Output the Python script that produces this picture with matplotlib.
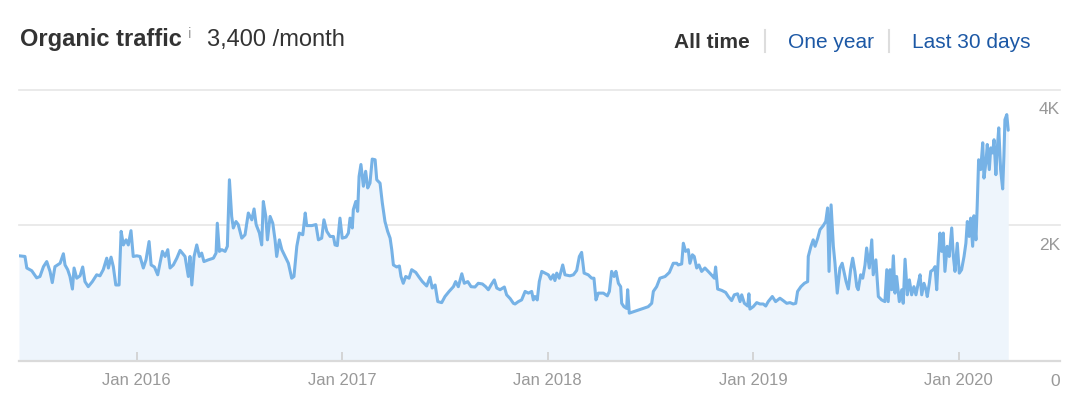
import matplotlib
matplotlib.use("Agg")
import matplotlib.pyplot as plt
from matplotlib import transforms
from matplotlib.lines import Line2D

plt.rcParams['font.family'] = ['Liberation Sans', 'DejaVu Sans']

# ---- data -------------------------------------------------------------
current_traffic = 3400

dates = [
    2015.427, 2015.456, 2015.465, 2015.489, 2015.513, 2015.529, 2015.546, 2015.562, 2015.578, 2015.589,
    2015.602, 2015.627, 2015.643, 2015.651, 2015.664, 2015.675, 2015.687, 2015.695, 2015.708, 2015.724,
    2015.737, 2015.748, 2015.764, 2015.784, 2015.805, 2015.821, 2015.837, 2015.854, 2015.862, 2015.875,
    2015.886, 2015.898, 2015.914, 2015.924, 2015.935, 2015.948, 2015.959, 2015.972, 2015.983, 2016.000,
    2016.016, 2016.032, 2016.045, 2016.060, 2016.070, 2016.086, 2016.102, 2016.113, 2016.125, 2016.138,
    2016.151, 2016.162, 2016.178, 2016.195, 2016.211, 2016.235, 2016.251, 2016.259, 2016.268, 2016.279,
    2016.292, 2016.305, 2016.316, 2016.327, 2016.348, 2016.373, 2016.386, 2016.392, 2016.402, 2016.414,
    2016.430, 2016.441, 2016.451, 2016.462, 2016.470, 2016.483, 2016.494, 2016.511, 2016.527, 2016.543,
    2016.560, 2016.571, 2016.581, 2016.597, 2016.608, 2016.616, 2016.628, 2016.636, 2016.649, 2016.662,
    2016.673, 2016.681, 2016.694, 2016.706, 2016.722, 2016.738, 2016.754, 2016.765, 2016.779, 2016.791,
    2016.808, 2016.820, 2016.827, 2016.852, 2016.872, 2016.884, 2016.900, 2016.911, 2016.925, 2016.941,
    2016.957, 2016.965, 2016.976, 2016.989, 2017.000, 2017.018, 2017.030, 2017.038, 2017.049, 2017.054,
    2017.066, 2017.075, 2017.082, 2017.091, 2017.103, 2017.114, 2017.124, 2017.135, 2017.146, 2017.160,
    2017.168, 2017.184, 2017.195, 2017.208, 2017.221, 2017.233, 2017.241, 2017.249, 2017.265, 2017.278,
    2017.286, 2017.297, 2017.309, 2017.325, 2017.338, 2017.358, 2017.374, 2017.390, 2017.411, 2017.427,
    2017.438, 2017.452, 2017.465, 2017.484, 2017.500, 2017.520, 2017.541, 2017.552, 2017.565, 2017.582,
    2017.594, 2017.611, 2017.627, 2017.646, 2017.662, 2017.682, 2017.698, 2017.711, 2017.724, 2017.740,
    2017.752, 2017.768, 2017.789, 2017.800, 2017.817, 2017.833, 2017.841, 2017.857, 2017.873, 2017.890,
    2017.906, 2017.922, 2017.930, 2017.938, 2017.949, 2017.959, 2017.971, 2017.987, 2018.003, 2018.015,
    2018.027, 2018.035, 2018.044, 2018.056, 2018.073, 2018.084, 2018.108, 2018.125, 2018.141, 2018.154,
    2018.165, 2018.177, 2018.197, 2018.214, 2018.225, 2018.235, 2018.246, 2018.271, 2018.290, 2018.300,
    2018.311, 2018.323, 2018.332, 2018.344, 2018.355, 2018.360, 2018.371, 2018.384, 2018.389, 2018.397,
    2018.416, 2018.441, 2018.465, 2018.489, 2018.506, 2018.514, 2018.530, 2018.546, 2018.571, 2018.592,
    2018.611, 2018.628, 2018.635, 2018.652, 2018.660, 2018.671, 2018.684, 2018.692, 2018.704, 2018.713,
    2018.725, 2018.736, 2018.749, 2018.765, 2018.781, 2018.801, 2018.811, 2018.817, 2018.827, 2018.847,
    2018.866, 2018.879, 2018.895, 2018.908, 2018.924, 2018.936, 2018.944, 2018.957, 2018.973, 2018.979,
    2018.984, 2019.000, 2019.017, 2019.033, 2019.049, 2019.061, 2019.073, 2019.093, 2019.109, 2019.130,
    2019.146, 2019.163, 2019.179, 2019.195, 2019.207, 2019.216, 2019.232, 2019.249, 2019.265, 2019.268,
    2019.281, 2019.292, 2019.301, 2019.314, 2019.325, 2019.341, 2019.353, 2019.362, 2019.369, 2019.379,
    2019.390, 2019.398, 2019.409, 2019.422, 2019.433, 2019.452, 2019.463, 2019.474, 2019.484, 2019.495,
    2019.504, 2019.511, 2019.523, 2019.533, 2019.544, 2019.552, 2019.565, 2019.577, 2019.584, 2019.597,
    2019.609, 2019.625, 2019.641, 2019.650, 2019.657, 2019.666, 2019.674, 2019.682, 2019.690, 2019.698,
    2019.711, 2019.723, 2019.730, 2019.739, 2019.750, 2019.760, 2019.771, 2019.782, 2019.792, 2019.803,
    2019.812, 2019.820, 2019.831, 2019.841, 2019.847, 2019.857, 2019.864, 2019.876, 2019.885, 2019.893,
    2019.901, 2019.909, 2019.917, 2019.925, 2019.933, 2019.944, 2019.954, 2019.966, 2019.974, 2019.982,
    2019.993, 2020.003, 2020.014, 2020.026, 2020.035, 2020.042, 2020.051, 2020.058, 2020.068, 2020.074,
    2020.084, 2020.090, 2020.097, 2020.107, 2020.117, 2020.123, 2020.133, 2020.139, 2020.149, 2020.156,
    2020.165, 2020.172, 2020.181, 2020.188, 2020.195, 2020.204, 2020.214, 2020.220, 2020.225, 2020.234,
    2020.241,
]

visits = [
    1550, 1540, 1370, 1330, 1225, 1245, 1390, 1465, 1320, 1155,
    1390, 1440, 1580, 1415, 1345, 1245, 1060, 1370, 1220, 1255,
    1385, 1170, 1095, 1170, 1270, 1255, 1345, 1515, 1370, 1530,
    1390, 1120, 1120, 1910, 1710, 1785, 1710, 1920, 1540, 1550,
    1540, 1370, 1490, 1760, 1415, 1385, 1270, 1440, 1615, 1540,
    1640, 1370, 1415, 1515, 1630, 1540, 1245, 1540, 1120, 1540,
    1710, 1540, 1590, 1465, 1490, 1515, 1590, 2030, 1615, 1640,
    1615, 1690, 2670, 2130, 1960, 2055, 2010, 1810, 1860, 2180,
    2080, 2240, 2010, 1885, 1710, 2350, 2130, 1785, 2130, 2030,
    1785, 1540, 1785, 1640, 1540, 1440, 1220, 1245, 1690, 1885,
    1860, 2180, 1995, 1995, 2010, 1785, 1810, 2080, 1910, 1835,
    1835, 1710, 1700, 2105, 1810, 1825, 1885, 2105, 1960, 2230,
    2350, 2205, 2720, 2895, 2575, 2795, 2550, 2620, 2975, 2965,
    2670, 2620, 2330, 2055, 1910, 1810, 1640, 1415, 1385, 1400,
    1245, 1145, 1245, 1220, 1345, 1305, 1235, 1170, 1105, 1235,
    1075, 1120, 875, 860, 950, 1025, 1095, 1170, 1095, 1285,
    1145, 1170, 1095, 1090, 1145, 1135, 1095, 1050, 1120, 1195,
    1075, 1050, 1090, 975, 920, 850, 840, 875, 900, 1025,
    1000, 1025, 900, 950, 900, 1170, 1320, 1295, 1270, 1205,
    1270, 1185, 1295, 1220, 1415, 1270, 1255, 1270, 1335, 1540,
    1600, 1295, 1270, 1220, 1220, 900, 1000, 1000, 960, 1025,
    1320, 1245, 1320, 1145, 1095, 850, 800, 775, 1050, 705,
    725, 750, 775, 800, 850, 1025, 1095, 1220, 1245, 1305,
    1440, 1440, 1415, 1430, 1735, 1615, 1640, 1440, 1565, 1540,
    1370, 1415, 1320, 1370, 1320, 1255, 1220, 1385, 1060, 1040,
    1010, 950, 890, 975, 990, 875, 975, 850, 810, 990,
    765, 800, 860, 840, 840, 810, 875, 950, 875, 925,
    890, 850, 860, 840, 850, 1025, 1095, 1145, 1170, 1540,
    1690, 1785, 1690, 1810, 1935, 1995, 2055, 2255, 1320, 2300,
    1690, 1440, 1000, 1370, 1440, 1170, 1060, 1345, 1515, 1320,
    1095, 1050, 1270, 1220, 1415, 1665, 1370, 1785, 1270, 1490,
    950, 900, 875, 1345, 875, 1345, 1050, 1550, 1000, 1245,
    875, 1050, 850, 1500, 975, 1195, 975, 1095, 975, 1145,
    1270, 975, 1145, 1050, 950, 1145, 1320, 1345, 1390, 1050,
    1540, 1885, 1615, 1885, 1320, 1690, 1540, 1960, 1540, 1320,
    1735, 1295, 1345, 1540, 1735, 2055, 1835, 2105, 1690, 2140,
    1785, 2280, 2965, 2820, 3215, 2695, 2940, 3190, 2820, 3140,
    3065, 3260, 2745, 3140, 3435, 2820, 2535, 3015, 3555, 3630,
    current_traffic,
]

tick_years = [2016, 2017, 2018, 2019, 2020]
tick_labels = ['Jan 2016', 'Jan 2017', 'Jan 2018', 'Jan 2019', 'Jan 2020']
y_levels = [0, 2000, 4000]
y_labels = ['0', '2K', '4K']

assert len(dates) == len(visits)

# ---- figure -----------------------------------------------------------
W, H = 1071, 420
fig = plt.figure(figsize=(W / 100, H / 100), dpi=100)
fig.patch.set_facecolor('white')


def px(x, y):
    return x / W, 1 - y / H


ax = fig.add_axes([19 / W, 1 - 361 / H, (1060 - 19) / W, (361 - 89.5) / H])
ax.set_facecolor('white')

LINE = '#76b2e6'
FILL = '#eef5fc'
GREY_TXT = '#999999'

ax.fill_between(dates, visits, 0, color=FILL, lw=0, zorder=1)
ax.plot(dates, visits, color=LINE, lw=2.2, solid_joinstyle='round',
        solid_capstyle='round', zorder=3)

ax.set_xlim(2015.427, 2020.493)
ax.set_ylim(0, 4000)

for v in y_levels[1:]:
    ax.axhline(v, color='#e6e6e6', lw=1.2, zorder=0.5, clip_on=False)

for side in ('top', 'left', 'right'):
    ax.spines[side].set_visible(False)
ax.spines['bottom'].set_color('#dadada')
ax.spines['bottom'].set_linewidth(1.6)
ax.spines['bottom'].set_zorder(4)

ax.set_xticks(tick_years)
ax.set_xticklabels(tick_labels)
ax.tick_params(axis='x', direction='in', length=6.5, width=1.2,
               color='#cfcfcf', labelcolor=GREY_TXT, labelsize=12, pad=8.5)
ax.set_yticks([])

# value labels sit under their gridlines at the right edge
ytrans = transforms.offset_copy(ax.get_yaxis_transform(), fig=fig,
                                x=0, y=-25, units='dots')
for v, lab in zip(y_levels, y_labels):
    ax.text(1.0, v, lab, transform=ytrans, ha='right', va='baseline',
            color=GREY_TXT, fontsize=12.5, clip_on=False)

# ---- header -----------------------------------------------------------
fig.text(*px(20, 46), 'Organic traffic', fontsize=17, fontweight='bold',
         color='#333333', va='baseline')
fig.text(*px(188, 38.5), 'i', fontsize=11, color='#a0a0a0', va='baseline')
fig.text(*px(207, 46), f'{current_traffic:,} /month', fontsize=17,
         color='#333333', va='baseline')

fig.text(*px(674, 48), 'All time', fontsize=15, fontweight='bold',
         color='#333333', va='baseline')
fig.text(*px(788, 48), 'One year', fontsize=15, color='#1c58a5', va='baseline')
fig.text(*px(911.5, 48), 'Last 30 days', fontsize=15, color='#1c58a5',
         va='baseline')
for sx in (765, 889):
    fig.add_artist(Line2D([sx / W, sx / W], [1 - 29.5 / H, 1 - 51.5 / H],
                          color='#dddddd', lw=1.5))

fig.savefig('out.png', dpi=100, facecolor='white')
